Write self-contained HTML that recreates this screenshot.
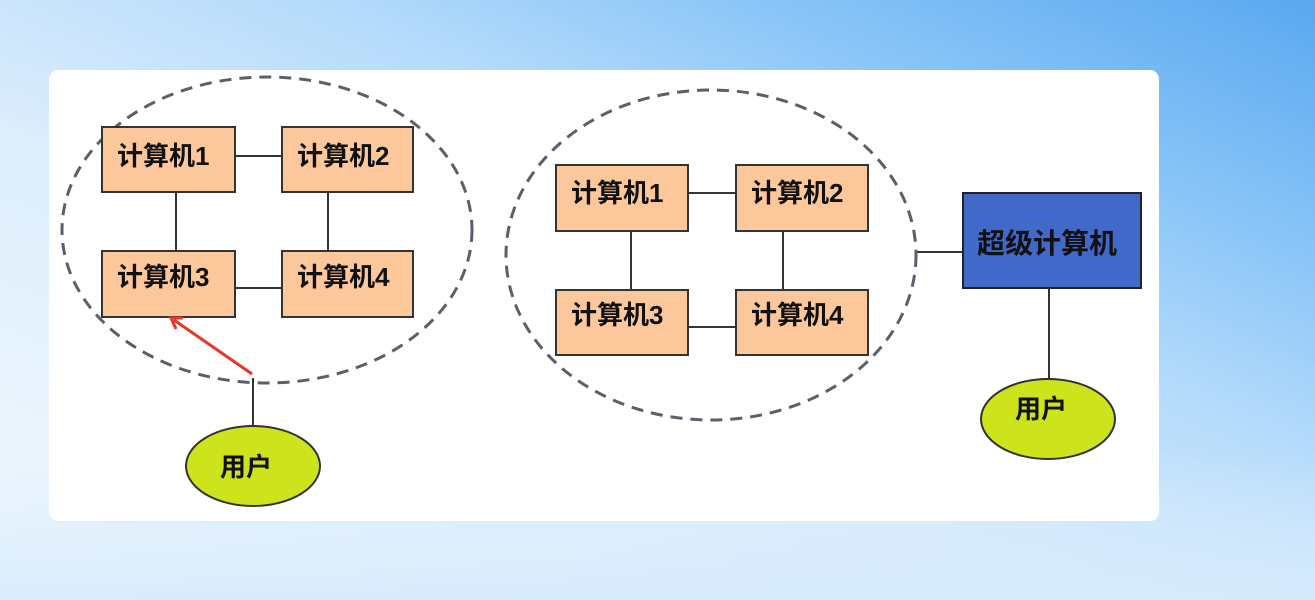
<!DOCTYPE html>
<html><head><meta charset="utf-8"><style>
html,body{margin:0;padding:0;width:1315px;height:600px;overflow:hidden}
body{background:linear-gradient(to top right,#f2f8fe 0%,#dcedfc 40%,#b5dbfb 62%,#86c3f7 80%,#5aa8f0 100%)}
.bg2{position:absolute;left:0;top:0;width:1315px;height:600px;background:linear-gradient(0deg,rgba(215,235,252,0.9) 0%,rgba(215,235,252,0) 25%)}
svg{position:absolute;left:0;top:0}
text{font-family:"Liberation Sans","Noto Sans CJK SC",sans-serif;font-weight:bold;font-size:26px;fill:#111}
</style></head><body><div class="bg2"></div>
<svg width="1315" height="600" viewBox="0 0 1315 600">
<rect x="49" y="70" width="1110" height="451" rx="9" fill="#fff"/>
<g stroke="#333" stroke-width="2" fill="none">
<line x1="176" y1="192" x2="176" y2="251"/><line x1="328" y1="192" x2="328" y2="251"/>
<line x1="235" y1="156" x2="282" y2="156"/><line x1="235" y1="288" x2="282" y2="288"/>
<line x1="253" y1="378" x2="253" y2="426"/>
<line x1="631" y1="231" x2="631" y2="290"/><line x1="783" y1="231" x2="783" y2="290"/>
<line x1="688" y1="193" x2="736" y2="193"/><line x1="688" y1="327" x2="736" y2="327"/>
<line x1="916" y1="252" x2="963" y2="252"/><line x1="1049" y1="288" x2="1049" y2="380"/>
</g>
<g stroke="#5a5f6a" stroke-width="3" fill="none" stroke-dasharray="12 8">
<ellipse cx="267" cy="230" rx="205" ry="153"/>
<ellipse cx="711" cy="255" rx="205" ry="165"/>
</g>
<g fill="#fcc79a" stroke="#333" stroke-width="2">
<rect x="102" y="127" width="133" height="65"/><rect x="282" y="127" width="131" height="65"/>
<rect x="102" y="251" width="133" height="66"/><rect x="282" y="251" width="131" height="66"/>
<rect x="556" y="165" width="132" height="66"/><rect x="736" y="165" width="132" height="66"/>
<rect x="556" y="290" width="132" height="65"/><rect x="736" y="290" width="132" height="65"/>
</g>
<rect x="963" y="193" width="178" height="95" fill="#4169c9" stroke="#222" stroke-width="2"/>
<g fill="#cde31c" stroke="#333" stroke-width="2">
<ellipse cx="253" cy="466" rx="67" ry="40"/>
<ellipse cx="1048" cy="419" rx="67" ry="40"/>
</g>
<line x1="252" y1="374" x2="174" y2="320" stroke="#e8362a" stroke-width="3"/>
<polyline points="183,318 171,318 176,329" fill="none" stroke="#e8362a" stroke-width="3"/>
<text x="117" y="165">计算机1</text><text x="297" y="165">计算机2</text>
<text x="117" y="286">计算机3</text><text x="297" y="286">计算机4</text>
<text x="571" y="202">计算机1</text><text x="751" y="202">计算机2</text>
<text x="571" y="324">计算机3</text><text x="751" y="324">计算机4</text>
<text x="977" y="253" style="font-size:28px">超级计算机</text>
<text x="220" y="476">用户</text>
<text x="1015" y="418">用户</text>
</svg>
</body></html>
